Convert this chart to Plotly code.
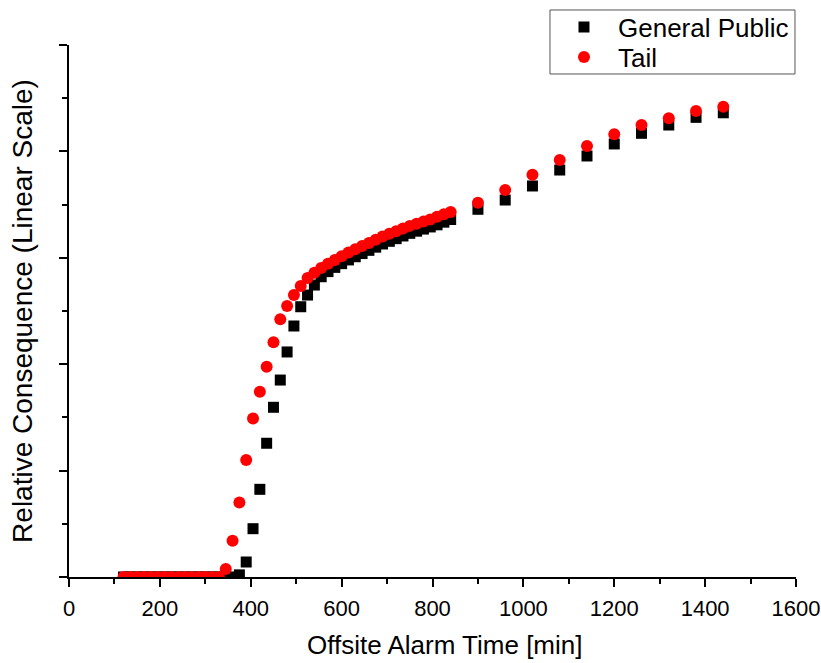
import plotly.graph_objects as go

time_min = [120, 135, 150, 165, 180, 195, 210, 225, 240, 255, 270, 285, 300, 315, 330,
            345, 360, 375, 390, 405, 420, 435, 450, 465, 480, 495, 510, 525, 540, 555,
            570, 585, 600, 615, 630, 645, 660, 675, 690, 705, 720, 735, 750, 765, 780,
            795, 810, 825, 840, 900, 960, 1020, 1080, 1140, 1200, 1260, 1320, 1380, 1440]

general_public = [0] * 15 + [
    0, 0, 0.02, 0.141, 0.454, 0.824, 1.257, 1.595, 1.851, 2.115, 2.359, 2.54, 2.65,
    2.744, 2.822, 2.87, 2.91, 2.945, 2.98, 3.01, 3.04, 3.07, 3.10, 3.13, 3.155, 3.18,
    3.205, 3.23, 3.25, 3.27, 3.29, 3.31, 3.335, 3.36,
    3.456, 3.543, 3.675, 3.825, 3.957, 4.07, 4.17, 4.248, 4.32, 4.363]

tail = [0] * 15 + [
    0.075, 0.34, 0.70, 1.10, 1.49, 1.74, 1.976, 2.206, 2.422, 2.547, 2.65, 2.735, 2.81,
    2.86, 2.905, 2.945, 2.98, 3.015, 3.05, 3.08, 3.11, 3.14, 3.17, 3.20, 3.225, 3.25,
    3.275, 3.30, 3.32, 3.34, 3.36, 3.385, 3.41, 3.43,
    3.518, 3.637, 3.78, 3.92, 4.051, 4.161, 4.248, 4.311, 4.38, 4.42]

x_ticks = [0, 200, 400, 600, 800, 1000, 1200, 1400, 1600]

FONT = "Arial, Liberation Sans, sans-serif"

fig = go.Figure()
fig.add_trace(go.Scatter(
    x=time_min, y=general_public, mode="markers", name="General Public",
    marker=dict(symbol="square", size=11, color="black", line=dict(width=0)),
    cliponaxis=True, legend="legend"))
fig.add_trace(go.Scatter(
    x=time_min, y=tail, mode="markers", name="Tail",
    marker=dict(symbol="circle", size=12, color="red", line=dict(width=0)),
    cliponaxis=True, legend="legend2"))

legend_common = dict(
    xanchor="left", x=0.6616, yanchor="middle",
    bgcolor="rgba(0,0,0,0)", borderwidth=0,
    font=dict(family=FONT, size=26, color="black"),
    itemwidth=58)

fig.update_layout(
    width=821, height=663,
    margin=dict(l=69, r=25, t=45, b=86, autoexpand=False),
    paper_bgcolor="white", plot_bgcolor="white",
    font=dict(family=FONT, color="black", size=22),
    showlegend=True,
    legend=dict(y=1.0338, **legend_common),
    legend2=dict(y=0.9774, **legend_common),
    shapes=[dict(type="rect", xref="paper", yref="paper",
                 x0=0.6616, x1=0.9986, y0=0.9455, y1=1.0658,
                 line=dict(color="#555555", width=1), fillcolor="white", layer="above")],
    annotations=[dict(text="Offsite Alarm Time [min]", xref="paper", yref="paper",
                      x=0.517, y=-0.1278, xanchor="center", yanchor="middle",
                      showarrow=False, font=dict(family=FONT, size=26, color="black"))],
    xaxis=dict(
        range=[0, 1600], tickvals=x_ticks, ticktext=[str(v) for v in x_ticks],
        showline=True, linecolor="black", linewidth=2, showgrid=False, zeroline=False,
        ticks="outside", ticklen=8, tickwidth=2, tickcolor="black",
        minor=dict(ticks="outside", ticklen=5, tickwidth=2, tickcolor="black", dtick=100),
        tickfont=dict(family=FONT, size=22), ticklabelstandoff=3,
        automargin=False),
    yaxis=dict(
        range=[0, 5], dtick=1, showticklabels=False,
        showline=True, linecolor="black", linewidth=2, showgrid=False, zeroline=False,
        ticks="outside", ticklen=8, tickwidth=2, tickcolor="black",
        minor=dict(ticks="outside", ticklen=5, tickwidth=2, tickcolor="black", dtick=0.5),
        title=dict(text="Relative Consequence (Linear Scale)", font=dict(family=FONT, size=28), standoff=18),
        automargin=False),
)

fig.write_html("out.html", config={"displayModeBar": False},
               post_script="document.body.style.margin='0';")
